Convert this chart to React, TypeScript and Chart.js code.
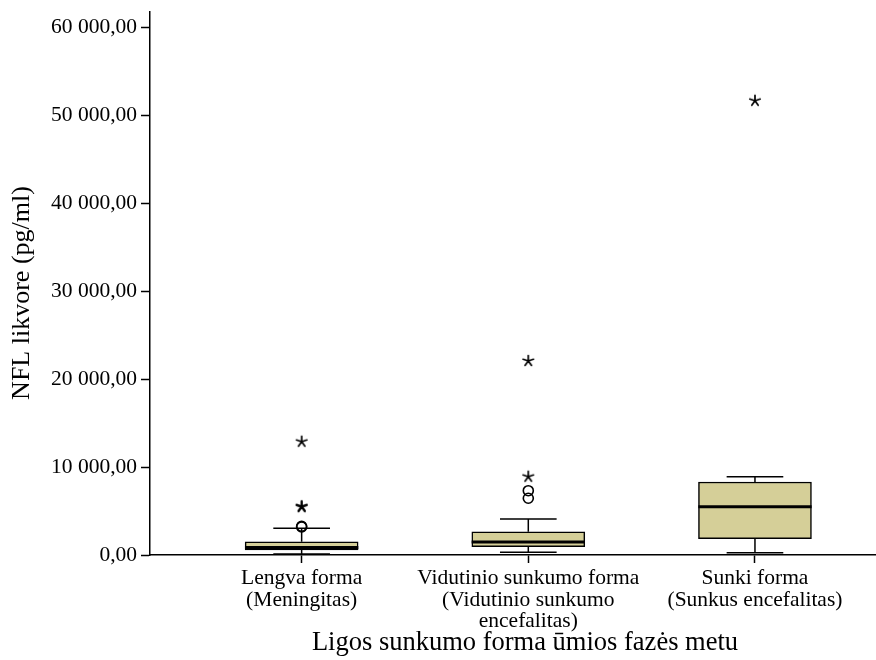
import React, { useEffect, useRef } from "react";
import { Chart, registerables } from "chart.js";

Chart.register(...registerables);

const FONT = '"Liberation Serif", "Times New Roman", serif';

// Groups along the horizontal axis (multi-line labels)
const categories: string[][] = [
  ["Lengva forma", "(Meningitas)"],
  ["Vidutinio sunkumo forma", "(Vidutinio sunkumo", "encefalitas)"],
  ["Sunki forma", "(Sunkus encefalitas)"],
];

// Box-plot summary per group (pg/ml)
const whiskerLow = [100, 310, 260];
const q1 = [570, 950, 1860];
const medians = [850, 1480, 5500];
const q3 = [1510, 2650, 8310];
const whiskerHigh = [3040, 4100, 8920];

// Outliers: circles (mild) and stars (extreme)
const mildOutliers: number[][] = [[3200, 3260], [6460, 7320], []];
const extremeOutliers: number[][] = [[5450, 5560, 12900], [8920, 22090], [51700]];

// Value axis
const yTicks = [0, 10000, 20000, 30000, 40000, 50000, 60000];
const Y_MAX = 61800;
const X_MIN = -0.669;
const X_MAX = 2.534;

const BOX_FILL = "#d5cf98";
const CAP_HALF = 0.125;
const BOX_HALF = 0.25;

const xTitle = "Ligos sunkumo forma ūmios fazės metu";
const yTitle = "NFL likvore (pg/ml)";

function formatValue(v: number): string {
  const [intPart, dec] = v.toFixed(2).split(".");
  const grouped = intPart.replace(/\B(?=(\d{3})+(?!\d))/g, " ");
  return `${grouped},${dec}`;
}

function makeStar(): HTMLCanvasElement {
  const c = document.createElement("canvas");
  c.width = 16;
  c.height = 16;
  const g = c.getContext("2d")!;
  g.strokeStyle = "#000";
  g.lineWidth = 1.7;
  g.lineCap = "round";
  g.beginPath();
  for (let k = 0; k < 5; k++) {
    const a = -Math.PI / 2 + (k * 2 * Math.PI) / 5;
    g.moveTo(8, 8);
    g.lineTo(8 + 5.5 * Math.cos(a), 8 + 5.5 * Math.sin(a));
  }
  g.stroke();
  return c;
}

const whiskerPlugin = {
  id: "boxWhiskers",
  beforeDatasetsDraw(chart: any) {
    const { ctx, scales } = chart;
    const x = scales.x;
    const y = scales.y;
    ctx.save();
    ctx.strokeStyle = "#000";
    ctx.lineWidth = 1.5;
    categories.forEach((_, i) => {
      const cx = x.getPixelForValue(i);
      const l = x.getPixelForValue(i - CAP_HALF);
      const r = x.getPixelForValue(i + CAP_HALF);
      const hi = y.getPixelForValue(whiskerHigh[i]);
      const lo = y.getPixelForValue(whiskerLow[i]);
      ctx.beginPath();
      ctx.moveTo(cx, y.getPixelForValue(q3[i]));
      ctx.lineTo(cx, hi);
      ctx.moveTo(cx, y.getPixelForValue(q1[i]));
      ctx.lineTo(cx, lo);
      ctx.moveTo(l, hi);
      ctx.lineTo(r, hi);
      ctx.moveTo(l, lo);
      ctx.lineTo(r, lo);
      ctx.stroke();
    });
    ctx.restore();
  },
  afterDatasetsDraw(chart: any) {
    const { ctx, scales } = chart;
    const x = scales.x;
    const y = scales.y;
    ctx.save();
    ctx.strokeStyle = "#000";
    ctx.lineWidth = 3;
    categories.forEach((_, i) => {
      const m = y.getPixelForValue(medians[i]);
      ctx.beginPath();
      ctx.moveTo(x.getPixelForValue(i - BOX_HALF), m);
      ctx.lineTo(x.getPixelForValue(i + BOX_HALF), m);
      ctx.stroke();
    });
    ctx.restore();
  },
};

const titlePlugin = {
  id: "axisTitles",
  afterDraw(chart: any) {
    const { ctx } = chart;
    ctx.save();
    ctx.fillStyle = "#000";
    ctx.textAlign = "center";
    ctx.textBaseline = "middle";
    ctx.font = `26.5px ${FONT}`;
    ctx.fillText(xTitle, 525, 643);
    ctx.translate(22, 293);
    ctx.rotate(-Math.PI / 2);
    ctx.font = `26px ${FONT}`;
    ctx.fillText(yTitle, 0, 0);
    ctx.restore();
  },
};

export default function App() {
  const ref = useRef<HTMLCanvasElement | null>(null);

  useEffect(() => {
    if (!ref.current) return;
    const star = makeStar();

    const boxes = categories.map((_, i) => ({ x: i, y: [q1[i], q3[i]] }));
    const circles = mildOutliers.flatMap((vals, i) => vals.map((v) => ({ x: i, y: v })));
    const stars = extremeOutliers.flatMap((vals, i) => vals.map((v) => ({ x: i, y: v })));

    const chart = new Chart(ref.current, {
      type: "bar",
      data: {
        datasets: [
          {
            type: "bar",
            data: boxes as any,
            backgroundColor: BOX_FILL,
            borderColor: "#000",
            borderWidth: 1.5,
            borderSkipped: false,
            barThickness: 113,
          } as any,
          {
            type: "scatter",
            data: circles,
            pointStyle: "circle",
            pointRadius: 5,
            pointBorderWidth: 1.6,
            pointBorderColor: "#000",
            pointBackgroundColor: "rgba(0,0,0,0)",
          } as any,
          {
            type: "scatter",
            data: stars,
            pointStyle: star,
            pointRadius: 8,
          } as any,
        ],
      },
      options: {
        responsive: false,
        animation: false,
        devicePixelRatio: 1,
        layout: { autoPadding: false, padding: { top: 12, right: 0, left: 0, bottom: 0 } },
        plugins: { legend: { display: false }, tooltip: { enabled: false } },
        scales: {
          x: {
            type: "linear",
            min: X_MIN,
            max: X_MAX,
            offset: false,
            grid: {
              drawOnChartArea: false,
              drawTicks: true,
              tickLength: 8,
              tickColor: "#000",
              tickWidth: 1.5,
              offset: false,
            },
            border: { color: "#000", width: 1.5 },
            afterBuildTicks: (s: any) => {
              s.ticks = categories.map((_, i) => ({ value: i }));
            },
            afterFit: (s: any) => {
              s.height = 105;
              s.paddingLeft = 0;
              s.paddingRight = 0;
            },
            ticks: {
              autoSkip: false,
              maxRotation: 0,
              color: "#000",
              padding: 5,
              font: { family: FONT, size: 21.5, lineHeight: 1.0 },
              callback: (_v: any, idx: number) => categories[idx],
            },
          },
          y: {
            type: "linear",
            min: 0,
            max: Y_MAX,
            grid: {
              drawOnChartArea: false,
              drawTicks: true,
              tickLength: 9,
              tickColor: "#000",
              tickWidth: 1.5,
            },
            border: { color: "#000", width: 1.5 },
            afterBuildTicks: (s: any) => {
              s.ticks = yTicks.map((v) => ({ value: v }));
            },
            afterFit: (s: any) => {
              s.width = 150;
              s.paddingTop = 0;
              s.paddingBottom = 0;
            },
            ticks: {
              color: "#000",
              padding: 4,
              font: { family: FONT, size: 21.5 },
              callback: (v: any) => formatValue(Number(v)),
            },
          },
        },
      },
      plugins: [whiskerPlugin, titlePlugin],
    });

    return () => chart.destroy();
  }, []);

  return (
    <div style={{ position: "absolute", left: 0, top: 0, width: 876, height: 660, background: "#fff" }}>
      <canvas ref={ref} width={876} height={660} />
    </div>
  );
}
